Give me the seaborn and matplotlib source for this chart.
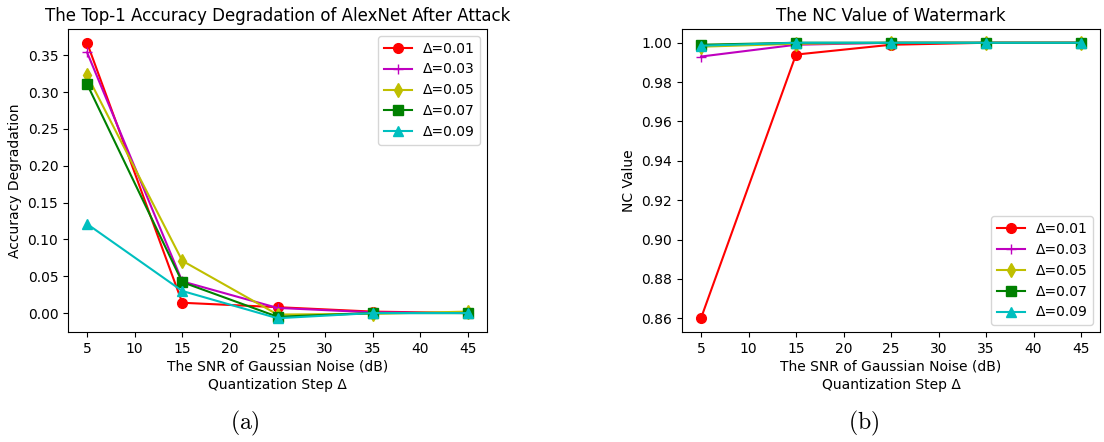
import matplotlib
matplotlib.use("Agg")
import matplotlib.pyplot as plt
import seaborn as sns
import pandas as pd

snr = [5, 15, 25, 35, 45]
labels = ["Δ=0.01", "Δ=0.03", "Δ=0.05", "Δ=0.07", "Δ=0.09"]

acc_001 = [0.367, 0.014, 0.008, 0.002, 0.000]
acc_003 = [0.354, 0.043, 0.007, 0.001, 0.000]
acc_005 = [0.323, 0.071, -0.002, -0.001, 0.002]
acc_007 = [0.311, 0.042, -0.005, 0.000, 0.000]
acc_009 = [0.121, 0.030, -0.007, 0.000, 0.000]

nc_001 = [0.860, 0.994, 0.999, 1.000, 1.000]
nc_003 = [0.993, 0.999, 1.000, 1.000, 1.000]
nc_005 = [0.998, 0.9995, 1.000, 1.000, 1.000]
nc_007 = [0.999, 1.000, 1.000, 1.000, 1.000]
nc_009 = [0.9985, 1.000, 1.000, 1.000, 1.000]

colors = ["r", "m", "y", "g", "c"]
markers = ["o", "+", "d", "s", "^"]

plt.rcParams['font.family'] = ['DejaVu Sans']
plt.rcParams['mathtext.fontset'] = 'cm'

fig = plt.figure(figsize=(11.04, 4.42), dpi=100)
ax1 = fig.add_axes([68/1104, 1-332/442, (487-68)/1104, (332-29)/442])
ax2 = fig.add_axes([682/1104, 1-332/442, (1100-682)/1104, (332-29)/442])

acc = [acc_001, acc_003, acc_005, acc_007, acc_009]
nc = [nc_001, nc_003, nc_005, nc_007, nc_009]

for vals, lab, c, m in zip(acc, labels, colors, markers):
    sns.lineplot(x=snr, y=vals, ax=ax1, color=c, marker=m, label=lab,
                 markersize=7, markeredgecolor=c, markeredgewidth=1.0, linewidth=1.5)
for vals, lab, c, m in zip(nc, labels, colors, markers):
    sns.lineplot(x=snr, y=vals, ax=ax2, color=c, marker=m, label=lab,
                 markersize=7, markeredgecolor=c, markeredgewidth=1.0, linewidth=1.5)

xlabel = "The SNR of Gaussian Noise (dB)\nQuantization Step Δ"
for ax in (ax1, ax2):
    ax.set_xticks([5, 10, 15, 20, 25, 30, 35, 40, 45])
    ax.set_xlabel(xlabel, fontsize=10, linespacing=1.4, labelpad=3)
    ax.tick_params(labelsize=10)

ax1.set_ylabel("Accuracy Degradation", fontsize=10)
ax1.set_title("The Top-1 Accuracy Degradation of AlexNet After Attack", fontsize=12)
ax1.set_yticks([0.00, 0.05, 0.10, 0.15, 0.20, 0.25, 0.30, 0.35])
ax1.set_yticklabels(["0.00", "0.05", "0.10", "0.15", "0.20", "0.25", "0.30", "0.35"])
ax1.legend(loc="upper right", fontsize=10)

ax2.set_ylabel("NC Value", fontsize=10)
ax2.set_title("The NC Value of Watermark", fontsize=12)
ax2.set_yticks([0.86, 0.88, 0.90, 0.92, 0.94, 0.96, 0.98, 1.00])
ax2.set_yticklabels(["0.86", "0.88", "0.90", "0.92", "0.94", "0.96", "0.98", "1.00"])
ax2.legend(loc="lower right", fontsize=10)

fig.text(245/1104, 1-423/442, r"$\mathrm{(a)}$", ha="center", va="center", fontsize=17)
fig.text(864/1104, 1-423/442, r"$\mathrm{(b)}$", ha="center", va="center", fontsize=17)

fig.savefig("out.png", dpi=100)
